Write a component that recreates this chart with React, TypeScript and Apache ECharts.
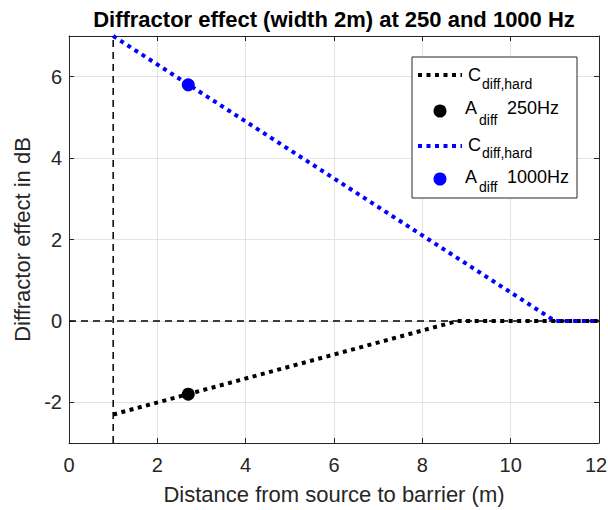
import React, { useEffect, useRef } from "react";
import * as echarts from "echarts";

// ---- data ----
const cHard250X = [1, 8.8, 12];
const cHard250Y = [-2.3, 0, 0];
const cHard1000X = [1, 11, 12];
const cHard1000Y = [7, 0, 0];
const aDiffX = [2.7];
const aDiff250Y = [-1.8];
const aDiff1000Y = [5.8];
const barrierX = 1;
const refY = 0;
const xRange = [0, 12];
const yRange = [-3, 7];
const yTicks = [-2, 0, 2, 4, 6];

const FONT = "'Liberation Sans', Arial, Helvetica, sans-serif";
const AX = "#262626";

function zip(xs: number[], ys: number[]) {
  return xs.map((x, i) => [x, ys[i]]);
}

export default function App() {
  const ref = useRef<HTMLDivElement>(null);
  useEffect(() => {
    if (!ref.current) return;
    const chart = echarts.init(ref.current, undefined, { renderer: "svg" });
    const dotted = [4, 4.5];
    const dashed = [7, 5];
    const tickStyle = { show: true, inside: true, length: 5, lineStyle: { color: AX } };
    const lineAx = { show: true, onZero: false, lineStyle: { color: AX, width: 1 } };
    const main = (t: string, x: number, y: number) => ({
      type: "text",
      z: 101,
      style: { text: t, x, y, font: `18px ${FONT}`, fill: "#000", verticalAlign: "middle" },
    });
    const sub = (t: string, x: number, y: number) => ({
      type: "text",
      z: 101,
      style: { text: t, x, y, font: `14px ${FONT}`, fill: "#000", verticalAlign: "middle" },
    });
    const graphic: any[] = [
      {
        type: "rect",
        shape: { x: 412, y: 57, width: 165, height: 141 },
        style: { fill: "#fff", stroke: AX, lineWidth: 1 },
        z: 100,
      },
      // row 1
      { type: "line", z: 101, shape: { x1: 418, y1: 75, x2: 462, y2: 75 }, style: { stroke: "#000", lineWidth: 4, lineDash: dotted } },
      main("C", 468, 75),
      sub("diff,hard", 482, 84),
      // row 2
      { type: "circle", z: 101, shape: { cx: 440, cy: 111, r: 6.5 }, style: { fill: "#000" } },
      main("A", 465, 108),
      sub("diff", 479, 120),
      main("250Hz", 507, 108),
      // row 3
      { type: "line", z: 101, shape: { x1: 418, y1: 146, x2: 462, y2: 146 }, style: { stroke: "#0000ff", lineWidth: 4, lineDash: dotted } },
      main("C", 468, 145),
      sub("diff,hard", 482, 153),
      // row 4
      { type: "circle", z: 101, shape: { cx: 440, cy: 179, r: 6.5 }, style: { fill: "#0000ff" } },
      main("A", 465, 177),
      sub("diff", 479, 187),
      main("1000Hz", 507, 177),
    ];
    chart.setOption({
      animation: false,
      backgroundColor: "#fff",
      title: {
        text: "Diffractor effect (width 2m) at 250 and 1000 Hz",
        left: 334,
        textAlign: "center",
        top: 8,
        padding: 0,
        textStyle: { fontFamily: FONT, fontSize: 22, fontWeight: "bold", color: "#000" },
      },
      grid: { left: 69, right: 9, top: 36, bottom: 67, outerBoundsMode: "none", containLabel: false },
      xAxis: [
        {
          type: "value",
          min: xRange[0],
          max: xRange[1],
          interval: 2,
          position: "bottom",
          axisLine: lineAx,
          axisTick: tickStyle,
          axisLabel: {
            color: AX,
            fontFamily: FONT,
            fontSize: 20,
            margin: 12,
            formatter: (v: number) => (v === xRange[1] ? `{e|${v}}` : `${v}`),
            rich: { e: { color: AX, fontFamily: FONT, fontSize: 20, padding: [0, 6, 0, 0] } },
          },
          splitLine: { show: true, lineStyle: { color: "#e3e3e3", width: 1 } },
          name: "Distance from source to barrier (m)",
          nameLocation: "middle",
          nameGap: 40,
          nameTextStyle: { color: AX, fontFamily: FONT, fontSize: 22 },
        },
        {
          type: "value",
          min: xRange[0],
          max: xRange[1],
          interval: 2,
          position: "top",
          axisLine: lineAx,
          axisTick: tickStyle,
          axisLabel: { show: false },
          splitLine: { show: false },
        },
      ],
      yAxis: [
        {
          type: "value",
          min: yRange[0],
          max: yRange[1],
          interval: 2,
          position: "left",
          axisLine: lineAx,
          axisLabel: {
            color: AX,
            fontFamily: FONT,
            fontSize: 20,
            margin: 7,
            customValues: yTicks,
          },
          axisTick: { ...tickStyle, customValues: yTicks },
          splitLine: { show: true, lineStyle: { color: "#e3e3e3", width: 1 } },
          name: "Diffractor effect in dB",
          nameLocation: "middle",
          nameGap: 30,
          nameTextStyle: { color: AX, fontFamily: FONT, fontSize: 22 },
        },
        {
          type: "value",
          min: yRange[0],
          max: yRange[1],
          interval: 2,
          position: "right",
          axisLine: lineAx,
          axisTick: { ...tickStyle, customValues: yTicks },
          axisLabel: { show: false },
          splitLine: { show: false },
        },
      ],
      series: [
        {
          type: "line",
          data: [[barrierX, yRange[0]], [barrierX, yRange[1]]],
          symbol: "none",
          lineStyle: { color: "#000", width: 1.5, type: dashed },
          silent: true,
        },
        {
          type: "line",
          data: [[xRange[0], refY], [xRange[1], refY]],
          symbol: "none",
          lineStyle: { color: "#000", width: 1.5, type: dashed },
          silent: true,
        },
        {
          name: "Cdiff,hard 250",
          type: "line",
          data: zip(cHard250X, cHard250Y),
          symbol: "none",
          lineStyle: { color: "#000", width: 4, type: dotted, cap: "butt" },
        },
        {
          name: "Adiff 250Hz",
          type: "scatter",
          data: zip(aDiffX, aDiff250Y),
          symbolSize: 13,
          itemStyle: { color: "#000", opacity: 1 },
        },
        {
          name: "Cdiff,hard 1000",
          type: "line",
          data: zip(cHard1000X, cHard1000Y),
          symbol: "none",
          lineStyle: { color: "#0000ff", width: 4, type: dotted, cap: "butt" },
        },
        {
          name: "Adiff 1000Hz",
          type: "scatter",
          data: zip(aDiffX, aDiff1000Y),
          symbolSize: 13,
          itemStyle: { color: "#0000ff", opacity: 1 },
        },
      ],
      graphic,
    });
    return () => chart.dispose();
  }, []);
  return (
    <div
      ref={ref}
      style={{ position: "absolute", left: 0, top: 0, width: 608, height: 510 }}
    />
  );
}
